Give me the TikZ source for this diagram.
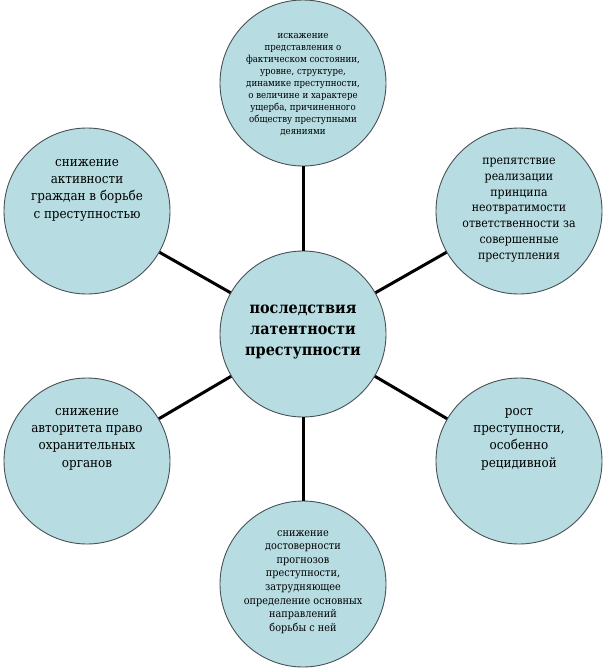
\documentclass[tikz,border=0pt]{standalone}
\usepackage{fontspec}
\setmainfont{DejaVu Serif Condensed}
\newfontfamily\serfont{DejaVu Serif Condensed}
\definecolor{circfill}{RGB}{183,221,226}
\definecolor{circdraw}{RGB}{72,82,86}
\begin{document}
\begin{tikzpicture}[x=1pt,y=-1pt,
  circ/.style={circle,draw=circdraw,fill=circfill,line width=0.9pt,minimum size=166pt,inner sep=0pt},
  lbl/.style={align=center,text=black,inner sep=0pt},
  conn/.style={line width=3pt,black}]
\useasboundingbox (0,0) rectangle (604,672);
\fill[white] (0,0) rectangle (604,672);
% circles
\node[circ] (c) at (303,334) {};
\node[circ] (t) at (303,83) {};
\node[circ] (b) at (303,584) {};
\node[circ] (tl) at (87,211) {};
\node[circ] (tr) at (519,211) {};
\node[circ] (bl) at (87,461) {};
\node[circ] (br) at (519,461) {};
% connectors
\draw[conn] (c) -- (t);
\draw[conn] (c) -- (b);
\draw[conn] (c) -- (tl);
\draw[conn] (c) -- (tr);
\draw[conn] (c) -- (bl);
\draw[conn] (c) -- (br);
% texts
\node[lbl,font=\serfont\fontsize{16}{21}\selectfont\bfseries] (ct) at (303,332) {последствия\\латентности\\преступности};
\node[lbl,font=\serfont\fontsize{9.6}{12}\selectfont] (tt) at (303,85) {искажение\\представления о\\фактическом состоянии,\\уровне, структуре,\\динамике преступности,\\о величине и характере\\ущерба, причиненного\\обществу преступными\\деяниями};
\node[lbl,font=\serfont\fontsize{10.8}{13.6}\selectfont] (bt) at (303,582) {снижение\\достоверности\\прогнозов\\преступности,\\затрудняющее\\определение основных\\направлений\\борьбы с ней};
\node[lbl,font=\serfont\fontsize{13.3}{17.3}\selectfont] (tlt) at (87,190) {снижение\\активности\\граждан в борьбе\\с преступностью};
\node[lbl,font=\serfont\fontsize{12.2}{15.8}\selectfont] (trt) at (519,210) {препятствие\\реализации\\принципа\\неотвратимости\\ответственности за\\совершенные\\преступления};
\node[lbl,font=\serfont\fontsize{13.3}{17.3}\selectfont] (blt) at (87,439) {снижение\\авторитета право\\охранительных\\органов};
\node[lbl,font=\serfont\fontsize{13.3}{17.3}\selectfont] (brt) at (519,439) {рост\\преступности,\\особенно\\рецидивной};
\end{tikzpicture}
\end{document}
